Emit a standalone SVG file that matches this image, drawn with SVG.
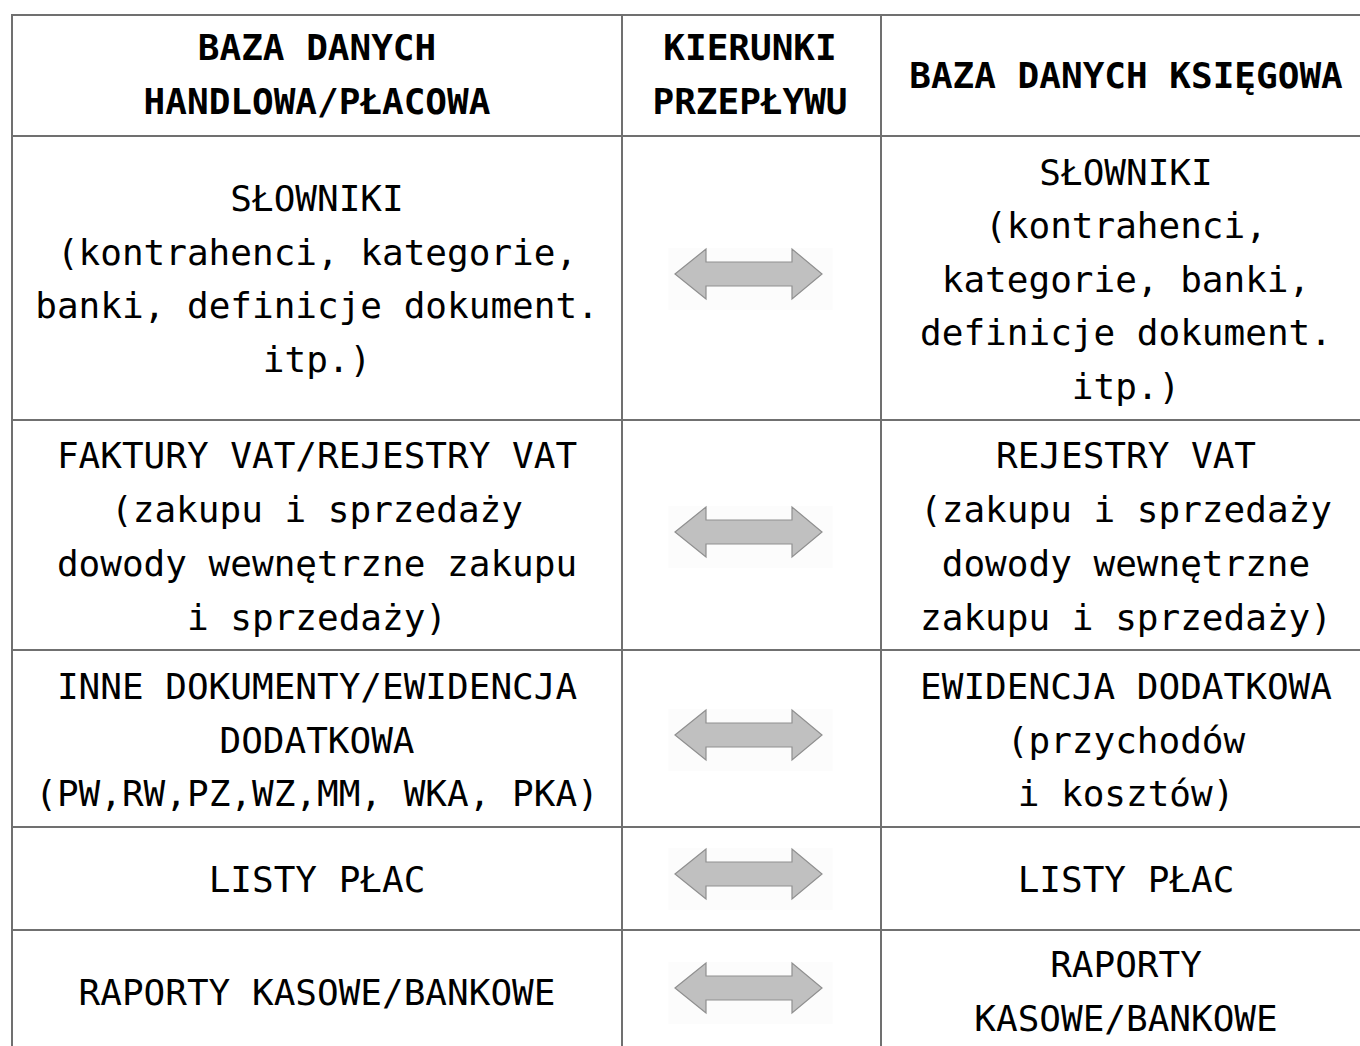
<svg xmlns="http://www.w3.org/2000/svg" width="1360" height="1046" viewBox="0 0 1360 1046">
<defs>
<style>
.t{font-family:"DejaVu Sans Mono","Liberation Mono",monospace;font-size:36px;fill:#000;text-anchor:middle}
.h{font-weight:bold}
.ln{stroke:#707070;stroke-width:2;fill:none}
.bg{fill:#fcfcfc}
.ar{fill:#c0c0c0;stroke:#8f8f8f;stroke-width:1.2;stroke-linejoin:miter}
</style>
<g id="arrow">
<rect class="bg" x="-80" y="-26" width="164" height="62"/>
<path class="ar" d="M-73.5,0 L-42.5,-25 L-42.5,-12 L43.5,-12 L43.5,-25 L73.5,0 L43.5,25 L43.5,12 L-42.5,12 L-42.5,25 Z"/>
</g>
</defs>
<rect x="0" y="0" width="1360" height="1046" fill="#fff"/>
<g id="grid">
<line class="ln" x1="12" y1="15" x2="1372" y2="15"/>
<line class="ln" x1="12" y1="136" x2="1372" y2="136"/>
<line class="ln" x1="12" y1="420" x2="1372" y2="420"/>
<line class="ln" x1="12" y1="650" x2="1372" y2="650"/>
<line class="ln" x1="12" y1="827" x2="1372" y2="827"/>
<line class="ln" x1="12" y1="930" x2="1372" y2="930"/>
<line class="ln" x1="12" y1="14" x2="12" y2="1060"/>
<line class="ln" x1="622" y1="14" x2="622" y2="1060"/>
<line class="ln" x1="881" y1="14" x2="881" y2="1060"/>
</g>
<g id="header">
<text class="t h" x="317" y="60">BAZA DANYCH</text>
<text class="t h" x="317" y="114">HANDLOWA/PŁACOWA</text>
<text class="t h" x="750" y="60">KIERUNKI</text>
<text class="t h" x="750" y="114">PRZEPŁYWU</text>
<text class="t h" x="1126" y="88">BAZA DANYCH KSIĘGOWA</text>
</g>
<g id="row1-left">
<text class="t" x="317" y="211">SŁOWNIKI</text>
<text class="t" x="317" y="265">(kontrahenci, kategorie,</text>
<text class="t" x="317" y="318">banki, definicje dokument.</text>
<text class="t" x="317" y="372">itp.)</text>
</g>
<g id="row1-right">
<text class="t" x="1126" y="185">SŁOWNIKI</text>
<text class="t" x="1126" y="238">(kontrahenci,</text>
<text class="t" x="1126" y="292">kategorie, banki,</text>
<text class="t" x="1126" y="345">definicje dokument.</text>
<text class="t" x="1126" y="399">itp.)</text>
</g>
<g id="row2-left">
<text class="t" x="317" y="468">FAKTURY VAT/REJESTRY VAT</text>
<text class="t" x="317" y="522">(zakupu i sprzedaży</text>
<text class="t" x="317" y="576">dowody wewnętrzne zakupu</text>
<text class="t" x="317" y="630">i sprzedaży)</text>
</g>
<g id="row2-right">
<text class="t" x="1126" y="468">REJESTRY VAT</text>
<text class="t" x="1126" y="522">(zakupu i sprzedaży</text>
<text class="t" x="1126" y="576">dowody wewnętrzne</text>
<text class="t" x="1126" y="630">zakupu i sprzedaży)</text>
</g>
<g id="row3-left">
<text class="t" x="317" y="699">INNE DOKUMENTY/EWIDENCJA</text>
<text class="t" x="317" y="753">DODATKOWA</text>
<text class="t" x="317" y="806">(PW,RW,PZ,WZ,MM, WKA, PKA)</text>
</g>
<g id="row3-right">
<text class="t" x="1126" y="699">EWIDENCJA DODATKOWA</text>
<text class="t" x="1126" y="753">(przychodów</text>
<text class="t" x="1126" y="806">i kosztów)</text>
</g>
<g id="row4-left"><text class="t" x="317" y="892">LISTY PŁAC</text></g>
<g id="row4-right"><text class="t" x="1126" y="892">LISTY PŁAC</text></g>
<g id="row5-left"><text class="t" x="317" y="1005">RAPORTY KASOWE/BANKOWE</text></g>
<g id="row5-right">
<text class="t" x="1126" y="977">RAPORTY</text>
<text class="t" x="1126" y="1031">KASOWE/BANKOWE</text>
</g>
<g id="connectors">
<use href="#arrow" x="748.5" y="274"/>
<use href="#arrow" x="748.5" y="532"/>
<use href="#arrow" x="748.5" y="735"/>
<use href="#arrow" x="748.5" y="874"/>
<use href="#arrow" x="748.5" y="988"/>
</g>
</svg>
